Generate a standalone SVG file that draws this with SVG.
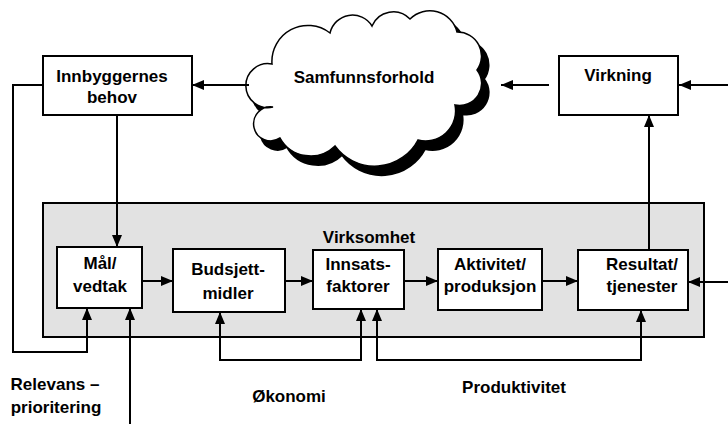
<svg xmlns="http://www.w3.org/2000/svg" width="728" height="424" viewBox="0 0 728 424">
  <style>
    .box { fill: #ffffff; stroke: #000000; stroke-width: 2; }
    .area { fill: #e2e2e2; stroke: #000000; stroke-width: 2; }
    .lbl { font-family: "Liberation Sans", Arial, sans-serif; font-weight: bold; font-size: 17px; fill: #000000; text-anchor: middle; }
    .conn { fill: none; stroke: #000000; stroke-width: 2; }
    .arr { marker-end: url(#head); }
    .both { marker-start: url(#head); marker-end: url(#head); }
  </style>
  <defs>
    <marker id="head" markerUnits="userSpaceOnUse" markerWidth="12" markerHeight="10" refX="12" refY="5" orient="auto-start-reverse">
      <path d="M0,0 L12,5 L0,10 z" fill="#000000"/>
    </marker>
    <path id="cloudShape" d="M273,107 A22,22 0 1 1 272,64 A36,36 0 0 1 330,33 A23,23 0 0 1 372,26 A23,23 0 0 1 410,19 A28,28 0 0 1 457,32 A24,24 0 0 1 477,70 A22,22 0 0 1 455,105 A30,30 0 0 1 418,140 A49,49 0 0 1 335,146 A35,35 0 0 1 280,138 A17,17 0 1 1 273,107 Z"/>
  </defs>

  <rect width="728" height="424" fill="#ffffff"/>

  <!-- operations area -->
  <g id="virksomhet">
    <rect class="area" x="43" y="203" width="661" height="134"/>
    <text class="lbl" x="369" y="243">Virksomhet</text>
  </g>

  <!-- society cloud with drop shadow -->
  <g id="samfunnsforhold">
    <use href="#cloudShape" transform="translate(7,9)" fill="#000000" stroke="#000000" stroke-width="2"/>
    <use href="#cloudShape" fill="#ffffff" stroke="#000000" stroke-width="1.5"/>
    <text class="lbl" x="364" y="83">Samfunnsforhold</text>
  </g>

  <g id="innbyggernes">
    <rect class="box" x="43" y="56" width="149" height="59"/>
    <text class="lbl" x="112" y="82">Innbyggernes</text>
    <text class="lbl" x="112" y="103">behov</text>
  </g>

  <g id="virkning">
    <rect class="box" x="559" y="56" width="119" height="59"/>
    <text class="lbl" x="618" y="81">Virkning</text>
  </g>

  <g id="maal">
    <rect class="box" x="57" y="247" width="85" height="61"/>
    <text class="lbl" x="100" y="269">Mål/</text>
    <text class="lbl" x="100" y="292">vedtak</text>
  </g>

  <g id="budsjett">
    <rect class="box" x="173" y="249" width="112" height="63"/>
    <text class="lbl" x="228" y="275">Budsjett-</text>
    <text class="lbl" x="228" y="299">midler</text>
  </g>

  <g id="innsats">
    <rect class="box" x="313" y="250" width="91" height="59"/>
    <text class="lbl" x="358" y="270">Innsats-</text>
    <text class="lbl" x="358" y="292">faktorer</text>
  </g>

  <g id="aktivitet">
    <rect class="box" x="438" y="249" width="104" height="61"/>
    <text class="lbl" x="490" y="270">Aktivitet/</text>
    <text class="lbl" x="490" y="292">produksjon</text>
  </g>

  <g id="resultat">
    <rect class="box" x="578" y="250" width="110" height="60"/>
    <text class="lbl" x="642" y="270">Resultat/</text>
    <text class="lbl" x="642" y="292">tjenester</text>
  </g>

  <!-- connectors -->
  <g id="connectors">
    <path class="conn arr" d="M249,85 H192"/>
    <path class="conn arr" d="M549,85 H501"/>
    <path class="conn arr" d="M728,85 H679"/>
    <path class="conn arr" d="M649,250 V115"/>
    <path class="conn arr" d="M117,115 V247"/>
    <path class="conn arr" d="M43,85 H13 V352 H87 V308"/>
    <path class="conn arr" d="M130,424 V308"/>
    <path class="conn arr" d="M142,281 H173"/>
    <path class="conn arr" d="M285,281 H313"/>
    <path class="conn arr" d="M404,281 H438"/>
    <path class="conn arr" d="M542,281 H578"/>
    <path class="conn arr" d="M728,282 H688"/>
    <path class="conn both" d="M220,312 V360 H361 V309"/>
    <path class="conn both" d="M377,309 V360 H641 V310"/>
  </g>

  <!-- measure labels -->
  <g id="labels">
    <text class="lbl" x="55" y="390">Relevans –</text>
    <text class="lbl" x="56" y="413">prioritering</text>
    <text class="lbl" x="289" y="402">Økonomi</text>
    <text class="lbl" x="514" y="393">Produktivitet</text>
  </g>
</svg>
